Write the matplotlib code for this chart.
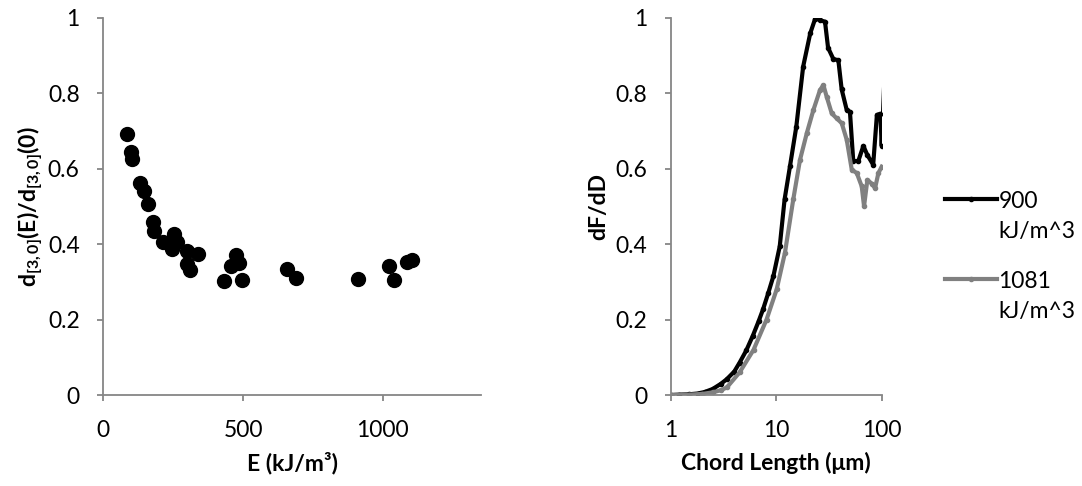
import matplotlib
matplotlib.use("Agg")
import matplotlib.pyplot as plt
from matplotlib.legend_handler import HandlerLine2D

plt.rcParams['font.family'] = ['Lato', 'DejaVu Sans']
plt.rcParams['mathtext.fontset'] = 'custom'
plt.rcParams['mathtext.rm'] = 'Lato'
plt.rcParams['mathtext.bf'] = 'Lato:bold'
plt.rcParams['mathtext.it'] = 'Lato:italic'

# left panel: normalised mean chord size vs specific energy
energy = [86, 99, 102, 132, 146, 161, 179, 183, 213, 245, 249, 254, 263,
          299, 299, 311, 338, 431, 455, 476, 487, 496, 658, 690, 910,
          1023, 1038, 1086, 1103]
d_ratio = [0.691, 0.644, 0.624, 0.562, 0.540, 0.505, 0.458, 0.435, 0.405,
           0.388, 0.410, 0.427, 0.405, 0.381, 0.346, 0.330, 0.373, 0.301,
           0.343, 0.372, 0.350, 0.306, 0.333, 0.311, 0.308, 0.342, 0.304,
           0.352, 0.358]

# right panel: chord length distributions
chord_900 = [1.0, 1.2, 1.5, 1.8, 2.1, 2.5, 3.0, 3.4, 4.0, 4.5, 5.2, 6.0, 6.8,
             7.5, 8.4, 9.4, 10.8, 12.0, 13.5, 15.5, 18.0, 21.0, 23.4, 24.5,
             26.0, 29.0, 31.0, 34.8, 38.8, 41.7, 46.6, 50.0, 53.7, 60.0, 67.0,
             73.0, 83.0, 90.0, 97.0, 100.0, 110.0]
dfdd_900 = [0.0, 0.001, 0.002, 0.004, 0.008, 0.016, 0.030, 0.042, 0.062,
            0.086, 0.118, 0.157, 0.195, 0.227, 0.270, 0.315, 0.394, 0.518,
            0.606, 0.711, 0.870, 0.958, 0.997, 1.0, 0.993, 0.989, 0.92, 0.89,
            0.887, 0.81, 0.755, 0.75, 0.62, 0.62, 0.66, 0.636, 0.61, 0.742,
            0.745, 0.66, 0.95]

chord_1081 = [1.0, 1.5, 2.0, 2.5, 3.0, 3.4, 4.5, 6.1, 8.1, 10.1, 12.1, 14.5,
              16.8, 19.5, 22.5, 26.0, 28.0, 30.1, 33.6, 37.4, 41.8, 46.6,
              52.0, 58.0, 64.6, 68.0, 73.1, 80.4, 86.5, 93.0, 100.0]
dfdd_1081 = [0.0, 0.001, 0.003, 0.007, 0.013, 0.02, 0.06, 0.12, 0.20, 0.28,
             0.377, 0.518, 0.623, 0.694, 0.755, 0.808, 0.821, 0.79, 0.746,
             0.733, 0.72, 0.676, 0.597, 0.588, 0.553, 0.50, 0.57, 0.56,
             0.548, 0.588, 0.605]

axis_grey = '#868686'
fs = 16.5


class TopLineHandler(HandlerLine2D):
    # put the legend line level with the first text line, as Excel does
    def create_artists(self, legend, orig_handle, xdescent, ydescent,
                       width, height, fontsize, trans):
        return super().create_artists(legend, orig_handle, xdescent,
                                      ydescent - 1.6 * fontsize, width,
                                      height, fontsize, trans)


fig = plt.figure(figsize=(10.82, 4.86), dpi=100)
ax1 = fig.add_axes([0.0955, 0.1872, 0.3488, 0.7767])
ax2 = fig.add_axes([0.6199, 0.1872, 0.195, 0.7767])

ax1.scatter(energy, d_ratio, s=100, color='black', zorder=3, clip_on=False)
ax1.set_xlim(0, 1350)
ax1.set_xticks([0, 500, 1000])
ax1.set_xticklabels(['0', '500', '1000'])
ax1.set_xlabel('E (kJ/m³)', fontsize=fs, fontweight='bold', labelpad=8)
ax1.set_ylabel(r'$\mathbf{d_{[3,0]}(E)/d_{[3,0]}(0)}$', fontsize=fs, labelpad=2)

ax2.plot(chord_900, dfdd_900, color='black', lw=3, marker='o', ms=3,
         label='900\nkJ/m^3')
ax2.plot(chord_1081, dfdd_1081, color='#808080', lw=3, marker='o', ms=3,
         label='1081\nkJ/m^3')
ax2.set_xscale('log')
ax2.set_xlim(1, 100)
ax2.set_xticks([1, 10, 100])
ax2.set_xticklabels(['1', '10', '100'])
ax2.minorticks_off()
ax2.set_xlabel('Chord Length (μm)', fontsize=fs, fontweight='bold', labelpad=8)
ax2.set_ylabel('dF/dD', fontsize=fs, fontweight='bold', labelpad=4)

for ax in (ax1, ax2):
    ax.set_ylim(0, 1)
    ax.set_yticks([0, 0.2, 0.4, 0.6, 0.8, 1.0])
    ax.set_yticklabels(['0', '0.2', '0.4', '0.6', '0.8', '1'])
    for side in ('top', 'right'):
        ax.spines[side].set_visible(False)
    for side in ('left', 'bottom'):
        ax.spines[side].set_color(axis_grey)
        ax.spines[side].set_linewidth(1.3)
    ax.tick_params(axis='both', direction='out', length=4, width=1.3,
                   color=axis_grey, labelsize=fs, labelcolor='black')
    ax.tick_params(axis='x', pad=14)
    ax.tick_params(axis='y', pad=13)

leg = ax2.legend(loc='upper left', bbox_to_anchor=(1.255, 0.565), frameon=False,
                 fontsize=fs, handlelength=2.3, handletextpad=0.05,
                 labelspacing=1.25, borderaxespad=0,
                 handler_map={plt.Line2D: TopLineHandler()})
for t in leg.get_texts():
    t.set_linespacing(1.55)

fig.savefig('out.png', dpi=100)
